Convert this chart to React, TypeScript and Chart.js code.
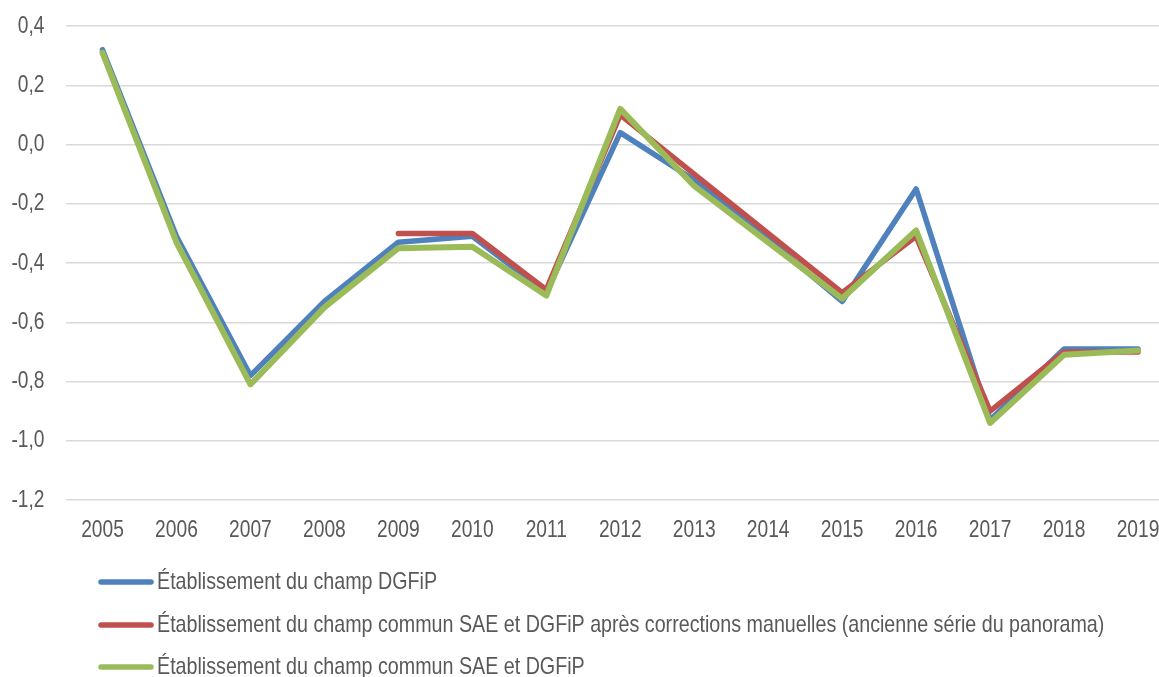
import React, { useEffect, useRef } from 'react';
import { Chart, registerables } from 'chart.js';

Chart.register(...registerables);

const years = ['2005', '2006', '2007', '2008', '2009', '2010', '2011', '2012', '2013', '2014', '2015', '2016', '2017', '2018', '2019'];
const champDGFiP = [0.32, -0.31, -0.78, -0.53, -0.33, -0.31, -0.5, 0.04, -0.12, -0.32, -0.53, -0.15, -0.93, -0.69, -0.69];
const champCommunCorrige = [null, null, null, null, -0.3, -0.3, -0.49, 0.1, -0.1, -0.3, -0.5, -0.31, -0.9, -0.7, -0.7];
const champCommun = [0.31, -0.33, -0.81, -0.55, -0.35, -0.345, -0.51, 0.12, -0.14, -0.33, -0.52, -0.29, -0.94, -0.71, -0.695];
const yTickValues = [0.4, 0.2, 0, -0.2, -0.4, -0.6, -0.8, -1.0, -1.2];
const seriesLabels = [
  'Établissement du champ DGFiP',
  'Établissement du champ commun SAE et DGFiP après corrections manuelles (ancienne série du panorama)',
  'Établissement du champ commun SAE et DGFiP',
];
const seriesColors = ['#4F81BD', '#C0504D', '#9BBB59'];

const FONT = "'Liberation Sans', Arial, sans-serif";
const TEXT = '#595959';

function narrowText(ctx: any, text: string, x: number, y: number, align: string, sx: number) {
  ctx.save();
  ctx.translate(x, y);
  ctx.scale(sx, 1);
  ctx.textAlign = align;
  ctx.textBaseline = 'middle';
  ctx.fillText(text, 0, 0);
  ctx.restore();
}

const textPlugin = {
  id: 'narrowText',
  afterDraw(chart: any) {
    const ctx = chart.ctx;
    ctx.save();
    ctx.fillStyle = TEXT;
    ctx.font = `24px ${FONT}`;
    const xs = chart.scales.x;
    const ys = chart.scales.y;
    chart.data.labels.forEach((lab: string, i: number) => {
      narrowText(ctx, lab, xs.getPixelForValue(i), xs.top + 30, 'center', 0.8);
    });
    yTickValues.forEach((v) => {
      narrowText(ctx, v.toFixed(1).replace('.', ','), ys.right - 21, ys.getPixelForValue(v), 'right', 0.8);
    });
    const rows = [582, 625, 667];
    chart.data.datasets.forEach((ds: any, i: number) => {
      const y = rows[i];
      ctx.strokeStyle = ds.borderColor;
      ctx.lineWidth = 5.5;
      ctx.lineCap = 'round';
      ctx.beginPath();
      ctx.moveTo(101, y);
      ctx.lineTo(151, y);
      ctx.stroke();
      narrowText(ctx, ds.label, 157, y, 'left', 0.82);
    });
    ctx.restore();
  },
};

export default function App() {
  const ref = useRef<HTMLCanvasElement | null>(null);
  useEffect(() => {
    if (!ref.current) return;
    const chart = new Chart(ref.current, {
      type: 'line',
      data: {
        labels: years,
        datasets: [
          { label: seriesLabels[0], data: champDGFiP, borderColor: seriesColors[0], backgroundColor: seriesColors[0], borderWidth: 5.5, order: 3 },
          { label: seriesLabels[1], data: champCommunCorrige, borderColor: seriesColors[1], backgroundColor: seriesColors[1], borderWidth: 5.5, order: 2 },
          { label: seriesLabels[2], data: champCommun, borderColor: seriesColors[2], backgroundColor: seriesColors[2], borderWidth: 6, order: 1 },
        ],
      },
      options: {
        responsive: false,
        animation: false,
        devicePixelRatio: 1,
        layout: { padding: { top: 26, bottom: 130, left: 0, right: 0 } },
        elements: {
          point: { radius: 0, hoverRadius: 0 },
          line: { borderCapStyle: 'round', borderJoinStyle: 'round', tension: 0 },
        },
        plugins: { legend: { display: false }, tooltip: { enabled: false } },
        scales: {
          x: {
            offset: true,
            grid: { display: false, drawTicks: false },
            border: { display: false },
            ticks: { display: false, autoSkip: false },
            afterFit: (s: any) => { s.height = 47; },
          },
          y: {
            min: -1.2,
            max: 0.4,
            grid: { color: '#d9d9d9', lineWidth: 1.4, drawTicks: false },
            border: { display: false },
            ticks: { display: false, stepSize: 0.2 },
            afterFit: (s: any) => { s.width = 65.5; },
          },
        },
      },
      plugins: [textPlugin],
    } as any);
    return () => chart.destroy();
  }, []);
  return (
    <div style={{ position: 'fixed', left: 0, top: 0, width: 1159, height: 677, overflow: 'hidden', background: '#fff' }}>
      <canvas ref={ref} width={1175} height={677} style={{ display: 'block' }} />
    </div>
  );
}
